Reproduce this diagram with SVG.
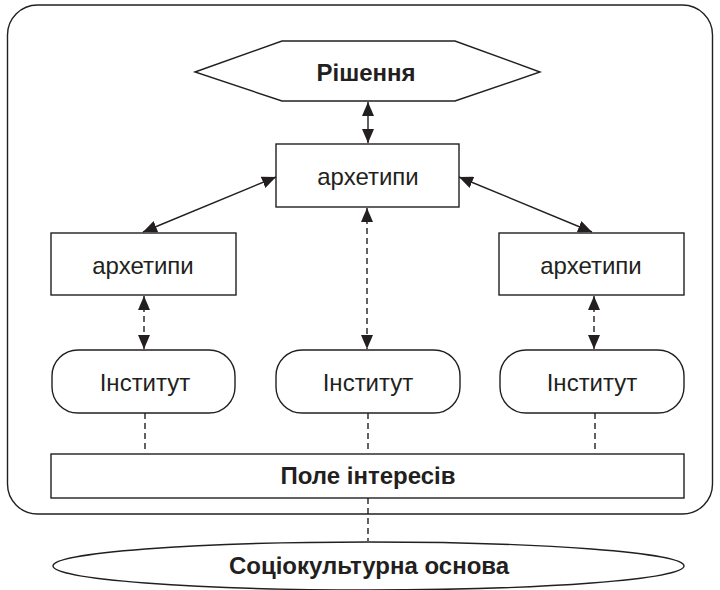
<svg xmlns="http://www.w3.org/2000/svg" width="720" height="590" viewBox="0 0 720 590">
<style>
.shape{fill:#fff;stroke:#231f20;stroke-width:1.4}
.frame{fill:none;stroke:#231f20;stroke-width:1.4}
.t{font-family:"Liberation Sans",Arial,sans-serif;font-size:24px;fill:#231f20;text-anchor:middle;dominant-baseline:central}
.b{font-weight:bold;font-size:24px}
.line{stroke:#231f20;stroke-width:1.4;fill:none}
.dash{stroke-dasharray:6 4}
</style>
<defs>
<marker id="ah" markerUnits="userSpaceOnUse" markerWidth="14" markerHeight="12" viewBox="0 0 14 12" refX="14" refY="6" orient="auto-start-reverse">
<path d="M0,0 L14,6 L0,12 z" fill="#231f20"/>
</marker>
</defs>
<rect class="frame" x="7.5" y="5" width="705" height="509" rx="30" ry="30"/>
<g id="connectors">
<line class="line" x1="368" y1="102" x2="368" y2="143" marker-start="url(#ah)" marker-end="url(#ah)"/>
<line class="line" x1="143" y1="232" x2="276" y2="177" marker-start="url(#ah)" marker-end="url(#ah)"/>
<line class="line" x1="592" y1="232" x2="459" y2="177" marker-start="url(#ah)" marker-end="url(#ah)"/>
<line class="line dash" x1="144" y1="296" x2="144" y2="349" marker-start="url(#ah)" marker-end="url(#ah)"/>
<line class="line dash" x1="367" y1="208" x2="367" y2="349" marker-start="url(#ah)" marker-end="url(#ah)"/>
<line class="line dash" x1="594" y1="296" x2="594" y2="349" marker-start="url(#ah)" marker-end="url(#ah)"/>
<line class="line dash" x1="145" y1="413" x2="145" y2="453"/>
<line class="line dash" x1="368" y1="413" x2="368" y2="453"/>
<line class="line dash" x1="595" y1="413" x2="595" y2="453"/>
<line class="line dash" x1="368" y1="498" x2="368" y2="541"/>
</g>
<g id="rishennya">
<polygon class="shape" points="195,72 282,41 455,41 540,72 455,101 282,101"/>
<text class="t b" x="366" y="72">Рішення</text>
</g>
<g id="arch-center">
<rect class="shape" x="276" y="144" width="183" height="63"/>
<text class="t" x="368" y="176">архетипи</text>
</g>
<g id="arch-left">
<rect class="shape" x="51" y="233" width="185" height="62"/>
<text class="t" x="143" y="265">архетипи</text>
</g>
<g id="arch-right">
<rect class="shape" x="499" y="233" width="185" height="62"/>
<text class="t" x="591" y="265">архетипи</text>
</g>
<g id="inst-left">
<rect class="shape" x="52" y="350" width="183" height="63" rx="26" ry="26"/>
<text class="t" x="145" y="382">Інститут</text>
</g>
<g id="inst-center">
<rect class="shape" x="276" y="350" width="184" height="63" rx="26" ry="26"/>
<text class="t" x="368" y="382">Інститут</text>
</g>
<g id="inst-right">
<rect class="shape" x="500" y="350" width="184" height="63" rx="26" ry="26"/>
<text class="t" x="592" y="382">Інститут</text>
</g>
<g id="pole">
<rect class="shape" x="51" y="454" width="633" height="44"/>
<text class="t b" x="368" y="475">Поле інтересів</text>
</g>
<g id="osnova">
<ellipse class="shape" cx="368.5" cy="566" rx="315.5" ry="24"/>
<text class="t b" x="369" y="565">Соціокультурна основа</text>
</g>
</svg>
